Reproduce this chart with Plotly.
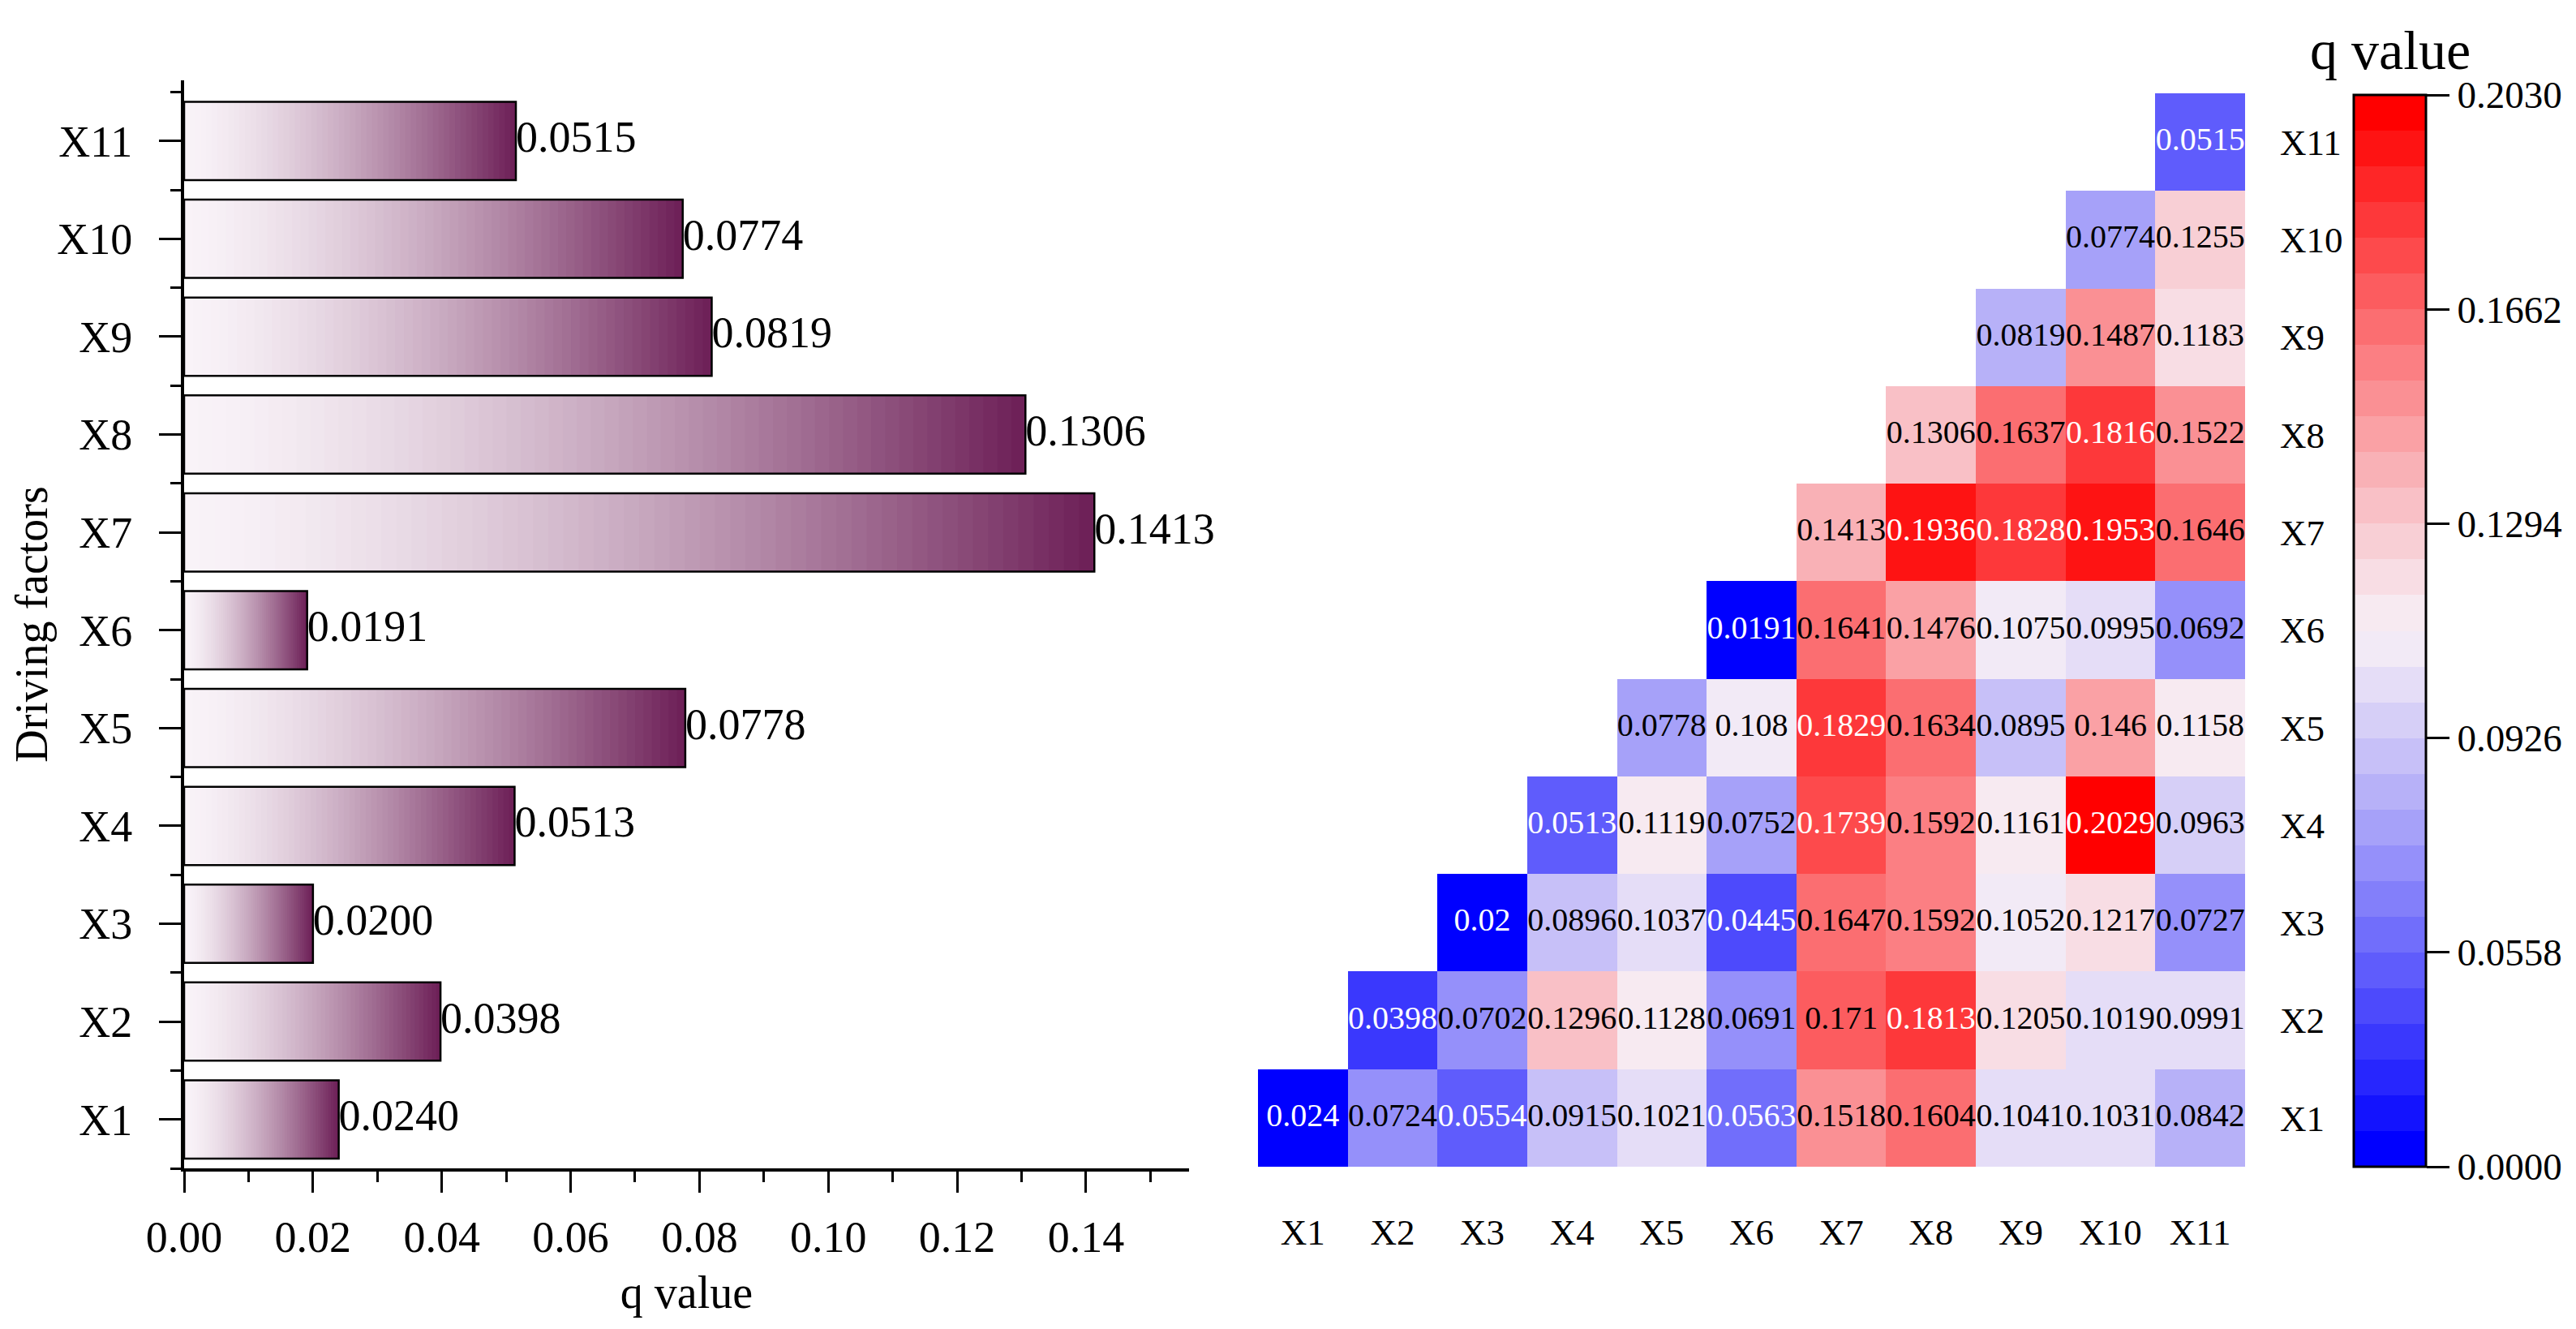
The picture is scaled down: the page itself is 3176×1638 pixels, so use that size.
import plotly.graph_objects as go

# ---------------- data ----------------
FACTORS = ["X1", "X2", "X3", "X4", "X5", "X6", "X7", "X8", "X9", "X10", "X11"]
Q_SINGLE = [0.0240, 0.0398, 0.0200, 0.0513, 0.0778, 0.0191, 0.1413, 0.1306, 0.0819, 0.0774, 0.0515]

# interaction q values, row i lists columns i..X11
ROW_X1 = [0.024, 0.0724, 0.0554, 0.0915, 0.1021, 0.0563, 0.1518, 0.1604, 0.1041, 0.1031, 0.0842]
ROW_X2 = [0.0398, 0.0702, 0.1296, 0.1128, 0.0691, 0.171, 0.1813, 0.1205, 0.1019, 0.0991]
ROW_X3 = [0.02, 0.0896, 0.1037, 0.0445, 0.1647, 0.1592, 0.1052, 0.1217, 0.0727]
ROW_X4 = [0.0513, 0.1119, 0.0752, 0.1739, 0.1592, 0.1161, 0.2029, 0.0963]
ROW_X5 = [0.0778, 0.108, 0.1829, 0.1634, 0.0895, 0.146, 0.1158]
ROW_X6 = [0.0191, 0.1641, 0.1476, 0.1075, 0.0995, 0.0692]
ROW_X7 = [0.1413, 0.1936, 0.1828, 0.1953, 0.1646]
ROW_X8 = [0.1306, 0.1637, 0.1816, 0.1522]
ROW_X9 = [0.0819, 0.1487, 0.1183]
ROW_X10 = [0.0774, 0.1255]
ROW_X11 = [0.0515]
ROWS = [ROW_X1, ROW_X2, ROW_X3, ROW_X4, ROW_X5, ROW_X6, ROW_X7, ROW_X8, ROW_X9, ROW_X10, ROW_X11]

CBAR_MIN, CBAR_MAX = 0.0190, 0.2030
CBAR_TICKS = [0.0190, 0.0558, 0.0926, 0.1294, 0.1662, 0.2030]
CBAR_TICKTEXT = ["0.0000", "0.0558", "0.0926", "0.1294", "0.1662", "0.2030"]

FONT = "Liberation Serif, Times New Roman, serif"
W, H = 3176, 1638

# ---------------- helpers ----------------
def lerp(a, b, t):
    return tuple(a[k] + (b[k] - a[k]) * t for k in range(3))

def rgb(c):
    return "rgb(%d,%d,%d)" % tuple(int(round(v)) for v in c)

BAR_START = (249, 243, 248)
BAR_END = (108, 30, 86)

def bar_color(f):
    return rgb(lerp(BAR_START, BAR_END, f ** 1.5))

BLUE, MID, RED = (0, 0, 255), (247, 239, 246), (255, 0, 0)
NLEV = 30

def level_color(i):
    q = i / (NLEV - 1)
    if q < 0.5:
        s = (0.5 - q) / 0.5
        return rgb(lerp(MID, BLUE, s ** 1.15))
    s = (q - 0.5) / 0.5
    return rgb(lerp(MID, RED, s ** 1.15))

colorscale = []
for i in range(NLEV):
    c = level_color(i)
    colorscale.append([i / NLEV, c])
    colorscale.append([(i + 1) / NLEV, c])

fig = go.Figure()

# ---------------- left: gradient bars ----------------
ypos = list(range(len(FACTORS)))
N = 60
for k in range(N, 0, -1):
    fig.add_trace(go.Bar(
        x=[v * k / N for v in Q_SINGLE], y=ypos, orientation="h",
        marker=dict(color=bar_color((k - 0.5) / N), line=dict(width=0)),
        width=0.8, showlegend=False, hoverinfo="skip",
        xaxis="x", yaxis="y"))
fig.add_trace(go.Bar(
    x=Q_SINGLE, y=ypos, orientation="h",
    marker=dict(color="rgba(0,0,0,0)", line=dict(color="black", width=2.5)),
    width=0.8, showlegend=False, xaxis="x", yaxis="y"))
fig.add_trace(go.Scatter(
    x=Q_SINGLE, y=ypos, mode="text", text=[f"{v:.4f}" for v in Q_SINGLE],
    textposition="middle right", textfont=dict(family=FONT, size=54, color="black"),
    showlegend=False, cliponaxis=False, hoverinfo="skip", xaxis="x", yaxis="y"))

# ---------------- right: triangular heatmap ----------------
n = len(FACTORS)
z = [[None] * n for _ in range(n)]
tx, ty, tt, tc = [], [], [], []
for r, row in enumerate(ROWS):
    for j, v in enumerate(row):
        c = r + j
        z[r][c] = v
        tx.append(FACTORS[c]); ty.append(FACTORS[r]); tt.append(f"{v:g}")
        tc.append("white" if (v < 0.06 or v > 0.172) else "black")

fig.add_trace(go.Heatmap(
    z=z, x=FACTORS, y=FACTORS, zmin=CBAR_MIN, zmax=CBAR_MAX,
    colorscale=colorscale, xaxis="x2", yaxis="y2", hoverongaps=False,
    colorbar=dict(
        x=2894 / W, xanchor="left", y=1 - 1430 / H, yanchor="bottom",
        len=(1430 - 109) / H, lenmode="fraction", thickness=89, thicknessmode="pixels",
        xpad=0, ypad=0, outlinecolor="black", outlinewidth=3,
        tickmode="array", tickvals=CBAR_TICKS, ticktext=CBAR_TICKTEXT,
        ticks="outside", ticklen=28, tickwidth=3, tickcolor="black",
        tickfont=dict(family=FONT, size=47, color="black"))))
fig.add_trace(go.Scatter(
    x=tx, y=ty, mode="text", text=tt, textfont=dict(family=FONT, size=40, color=tc),
    showlegend=False, hoverinfo="skip", xaxis="x2", yaxis="y2"))

axis_font = dict(family=FONT, size=54, color="black")
fig.update_layout(
    width=W, height=H, margin=dict(l=0, r=0, t=0, b=0, autoexpand=False),
    paper_bgcolor="white", plot_bgcolor="rgba(0,0,0,0)",
    barmode="overlay", font=dict(family=FONT, color="black"),
    xaxis=dict(
        domain=[219 / W, 1458 / W], range=[0, 0.156], showgrid=False, zeroline=False,
        showline=True, linecolor="black", linewidth=4, automargin=False,
        tickmode="linear", tick0=0, dtick=0.02, tickformat=".2f",
        ticks="outside", ticklen=26, tickwidth=3, tickcolor="black",
        minor=dict(dtick=0.01, tick0=0, ticks="outside", ticklen=13, tickwidth=3, tickcolor="black"),
        tickfont=axis_font, ticklabelstandoff=8,
        title=dict(text="q value", font=dict(family=FONT, size=56, color="black"), standoff=20),
        anchor="y"),
    yaxis=dict(
        domain=[1 - 1432 / H, 1 - 91 / H], range=[-0.5, 10.62], showgrid=False, zeroline=False,
        showline=True, linecolor="black", linewidth=4, automargin=False,
        tickmode="array", tickvals=ypos, ticktext=FACTORS,
        ticks="outside", ticklen=27, tickwidth=3, tickcolor="black",
        minor=dict(tickvals=[i + 0.5 for i in range(-1, n)], ticks="outside", ticklen=13,
                   tickwidth=3, tickcolor="black"),
        tickfont=axis_font, ticklabelstandoff=22,
        title=dict(text="Driving factors", font=dict(family=FONT, size=56, color="black"), standoff=20),
        anchor="x"),
    xaxis2=dict(
        domain=[1543 / W, 2760 / W], range=[-0.5, 10.5], showgrid=False, zeroline=False,
        showline=False, automargin=False,
        ticks="", tickfont=dict(family=FONT, size=45, color="black"), ticklabelstandoff=50,
        categoryorder="array", categoryarray=FACTORS, anchor="y2"),
    yaxis2=dict(
        domain=[1 - 1430 / H, 1 - 107 / H], range=[-0.5, 10.5], showgrid=False, zeroline=False,
        showline=False, automargin=False,
        side="right", ticks="", tickfont=dict(family=FONT, size=45, color="black"),
        ticklabelstandoff=42, categoryorder="array", categoryarray=FACTORS, anchor="x2"),
    annotations=[dict(
        text="q value", x=(2894 + 45) / W, y=1 - 54 / H, xref="paper", yref="paper",
        xanchor="center", yanchor="middle", showarrow=False,
        font=dict(family=FONT, size=68, color="black"))],
)

fig.write_html("out.html")
